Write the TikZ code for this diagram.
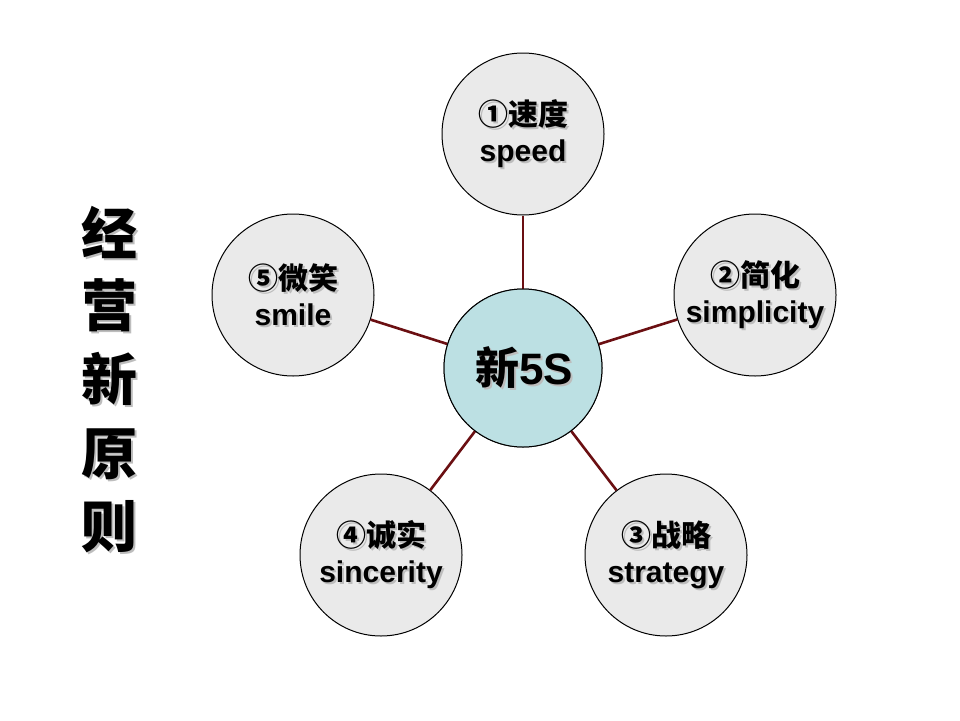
\documentclass[tikz,border=0pt]{standalone}
\usepackage{fontspec}
\setmainfont{Liberation Sans}[BoldFont={Liberation Sans Bold}]
\newfontfamily\cjk{Noto Sans CJK SC}
\definecolor{linkred}{HTML}{6B0F12}
\definecolor{outerfill}{HTML}{EAEAEA}
\definecolor{centerfill}{HTML}{BCE0E3}
\definecolor{shadowgray}{HTML}{BDBDBD}
\newcommand{\shd}[1]{\makebox[0pt][l]{\hspace{2pt}\raisebox{-2pt}{\textcolor{shadowgray}{#1}}}#1}
\begin{document}
\begin{tikzpicture}[x=1pt,y=-1pt,
  bubble/.style={circle,draw=black,line width=1pt,fill=outerfill,minimum size=162pt,inner sep=0pt},
  hub/.style={circle,draw=black,line width=1pt,fill=centerfill,minimum size=158pt,inner sep=0pt},
  link/.style={draw=linkred,line width=2.6pt},
  lbl/.style={align=center,inner sep=0pt,font=\fontsize{30}{36}\selectfont\bfseries},
  hubtxt/.style={inner sep=0pt,font=\fontsize{44}{50}\selectfont\bfseries},
  vtxt/.style={inner sep=0pt,font=\fontsize{56}{60}\selectfont\cjk\bfseries}
]
\useasboundingbox (0,0) rectangle (960,720);
\fill[white] (0,0) rectangle (960,720);

% circles
\node[hub] (c) at (523,368) {};
\node[bubble] (n1) at (523,134) {};
\node[bubble] (n2) at (755,295) {};
\node[bubble] (n3) at (666,555) {};
\node[bubble] (n4) at (381,555) {};
\node[bubble] (n5) at (293,295) {};

% connectors
\foreach \n in {n1,n2,n3,n4,n5} \draw[link] (c) -- (\n);
\node[hub] (c2) at (523,368) {};

% labels
\node[lbl] (t1) at (523,135) {\shd{\cjk ①速度}\\\shd{\bfseries speed}};
\node[lbl] (t2) at (755,296) {\shd{\cjk ②简化}\\\shd{\bfseries simplicity}};
\node[lbl] (t3) at (666,556) {\shd{\cjk ③战略}\\\shd{\bfseries strategy}};
\node[lbl] (t4) at (381,556) {\shd{\cjk ④诚实}\\\shd{\bfseries sincerity}};
\node[lbl] (t5) at (293,296) {\shd{\cjk ⑤微笑}\\\shd{\bfseries smile}};

\node[hubtxt] (ht) at (524,369) {\shd{{\cjk 新}\bfseries 5S}};

% vertical title
\foreach \ch/\yy [count=\i] in {经/233,营/306,新/380,原/455,则/528} {
  \node[vtxt] (v\i) at (109,\yy) {\shd{\ch}};
}
\end{tikzpicture}
\end{document}
